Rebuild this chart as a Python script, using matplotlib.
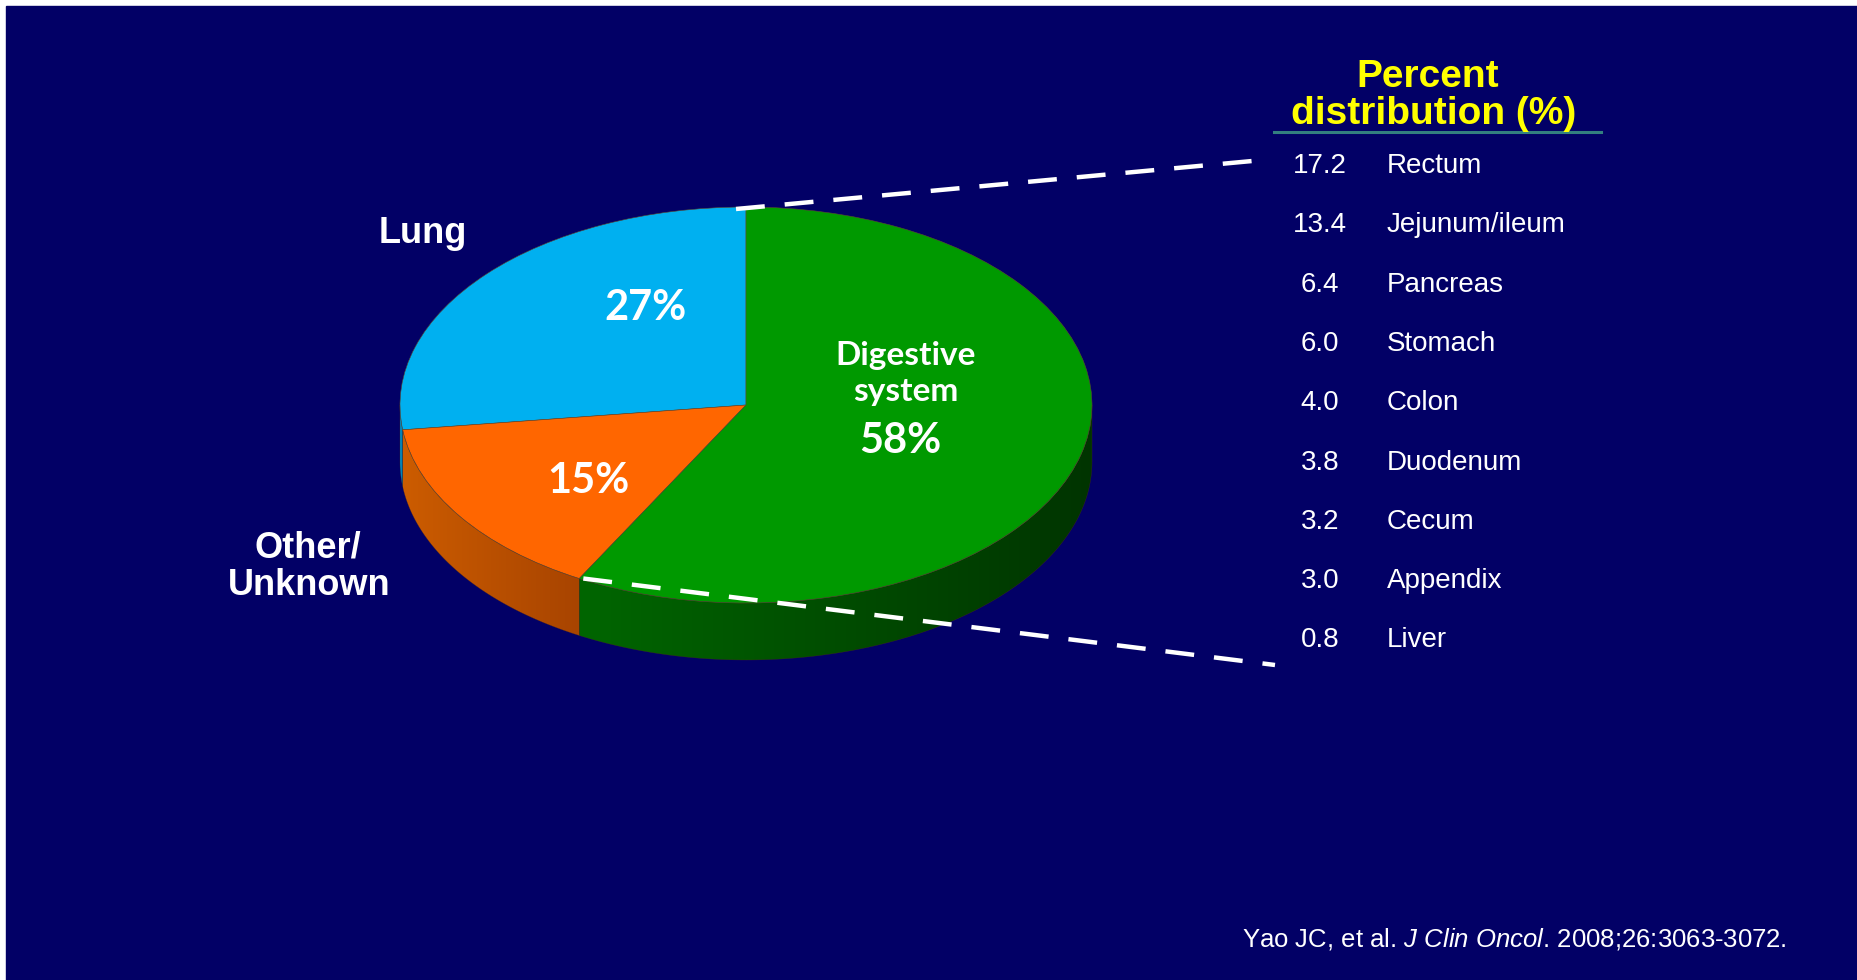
import matplotlib
matplotlib.use("Agg")
import matplotlib.pyplot as plt
import numpy as np
from matplotlib.patches import Wedge, Polygon, Rectangle
from matplotlib.transforms import Affine2D
from matplotlib.colors import LinearSegmentedColormap

# primary site shares (pie)
site_groups = ["Lung", "Other/", "Unknown"]
group_share = [27, 15, 58]
group_labels = ["27%", "15%", "Digestive\nsystem\n58%"]

# digestive breakdown (table)
dig_values = [17.2, 13.4, 6.4, 6.0, 4.0, 3.8, 3.2, 3.0, 0.8]
dig_sites = ["Rectum", "Jejunum/ileum", "Pancreas", "Stomach", "Colon",
             "Duodenum", "Cecum", "Appendix", "Liver"]

top_colors = ["#00b0f0", "#ff6600", "#009900"]
side_colors = [("#0090c8", "#0078a8"), ("#cc5c00", "#a84400"), ("#006600", "#003400")]

W, H = 1857, 980
NAVY = "#020066"
plt.rcParams["font.family"] = ["Liberation Sans", "DejaVu Sans"]
plt.rcParams["mathtext.fontset"] = "custom"
plt.rcParams["mathtext.rm"] = "Liberation Sans"
plt.rcParams["mathtext.it"] = "Liberation Sans:italic"

fig = plt.figure(figsize=(W / 100, H / 100), dpi=100, facecolor="white")
ax = fig.add_axes([0, 0, 1, 1])
ax.set_xlim(0, W)
ax.set_ylim(H, 0)
ax.axis("off")
ax.add_patch(Rectangle((6, 6), W, H, color=NAVY, zorder=0))

# pie geometry (pixels)
cx, cy, rx, ry, depth = 746, 405, 346, 198, 57
squash = Affine2D().scale(rx, -ry).translate(cx, cy) + ax.transData

edges = 90 + 360 * np.concatenate([[0], np.cumsum(group_share)]) / sum(group_share)


def rim(t_deg, dy=0):
    t = np.radians(t_deg)
    return np.column_stack([cx + rx * np.cos(t), cy - ry * np.sin(t) + dy])


# front side walls with horizontal shading
for i in range(len(group_share)):
    lo, hi = max(edges[i], 180), min(edges[i + 1], 360)
    if lo >= hi:
        continue
    ts = np.linspace(lo, hi, 120)
    pts = np.vstack([rim(ts), rim(ts[::-1], depth)])
    poly = Polygon(pts, closed=True, facecolor="none", edgecolor="#5a3010",
                   lw=0.3, alpha=0.6, zorder=2)
    ax.add_patch(poly)
    x0, x1 = pts[:, 0].min(), pts[:, 0].max()
    y0, y1 = pts[:, 1].min(), pts[:, 1].max()
    cmap = LinearSegmentedColormap.from_list("s%d" % i, side_colors[i])
    img = ax.imshow(np.linspace(0, 1, 256)[None, :], cmap=cmap, aspect="auto",
                    extent=[x0, x1, y1, y0], zorder=1, interpolation="bilinear")
    img.set_clip_path(poly)

# top face
for i in range(len(group_share)):
    ax.add_patch(Wedge((0, 0), 1, edges[i], edges[i + 1], facecolor=top_colors[i],
                       edgecolor="#5a4a30", lw=0.4, transform=squash, zorder=3))

# labels on slices
lab_font = ["Lato", "DejaVu Sans"]
ax.text(645, 308, group_labels[0], color="white", fontsize=30, fontweight="bold",
        family=lab_font, ha="center", va="center", zorder=5)
ax.text(588, 481, group_labels[1], color="white", fontsize=30, fontweight="bold",
        family=lab_font, ha="center", va="center", zorder=5)
dlines = group_labels[2].split("\n")
ax.text(906, 355, dlines[0], color="white", fontsize=24, fontweight="bold",
        family=lab_font, ha="center", va="center", zorder=5)
ax.text(906, 391, dlines[1], color="white", fontsize=24, fontweight="bold",
        family=lab_font, ha="center", va="center", zorder=5)
ax.text(900, 441, dlines[2], color="white", fontsize=30, fontweight="bold",
        family=lab_font, ha="center", va="center", zorder=5)

# outside labels
ax.text(423, 233, site_groups[0], color="white", fontsize=26, fontweight="bold",
        ha="center", va="center")
ax.text(308, 548, site_groups[1], color="white", fontsize=26, fontweight="bold",
        ha="center", va="center")
ax.text(309, 585, site_groups[2], color="white", fontsize=26, fontweight="bold",
        ha="center", va="center")

# dashed connectors from digestive slice to table
p_top = rim([edges[3]])[0]
p_bot = rim([edges[2]])[0]
ax.plot([p_top[0] - 10, 1263], [p_top[1] + 2, 160], color="white", lw=3.2,
        dashes=(6.5, 4.5), zorder=6)
ax.plot([p_bot[0] + 4, 1275], [p_bot[1], 665], color="white", lw=3.2,
        dashes=(6.5, 4.5), zorder=6)

# table header
ax.text(1428, 77, "Percent", color="#ffff00", fontsize=28, fontweight="bold",
        ha="center", va="center")
ax.text(1434, 114, "distribution (%)", color="#ffff00", fontsize=28,
        fontweight="bold", ha="center", va="center")
ax.plot([1274, 1601], [132, 132], color="#337f7f", lw=2.2)

for k, (v, name) in enumerate(zip(dig_values, dig_sites)):
    y = 166 + 59.3 * k
    ax.text(1320, y, f"{v:.1f}", color="white", fontsize=20, ha="center", va="center")
    ax.text(1387, y, name, color="white", fontsize=20, ha="left", va="center")

ax.text(1786, 939, r"Yao JC, et al. $\mathit{J\ Clin\ Oncol}$. 2008;26:3063-3072.",
        color="white", fontsize=18.5, ha="right", va="center")

fig.savefig("out.png", dpi=100, facecolor="white")
